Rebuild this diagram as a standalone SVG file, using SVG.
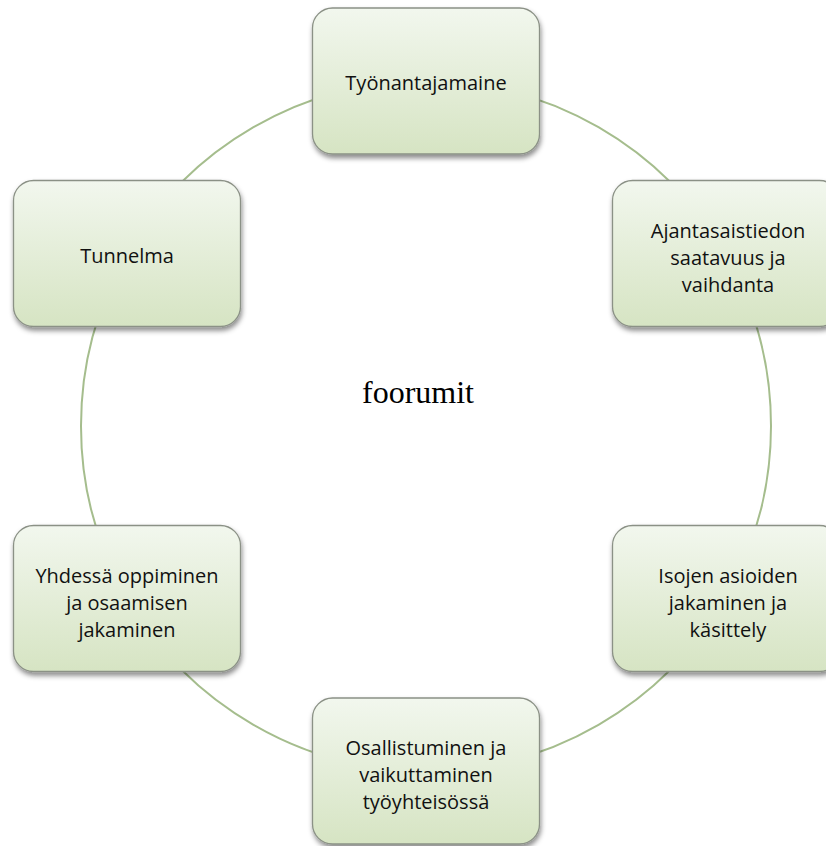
<svg xmlns="http://www.w3.org/2000/svg" width="826" height="846" viewBox="0 0 826 846">
<defs>
<linearGradient id="g" x1="0" y1="0" x2="0" y2="1">
<stop offset="0" stop-color="#f2f7ee"/>
<stop offset="1" stop-color="#d6e4c3"/>
</linearGradient>
<filter id="sh" x="-10%" y="-10%" width="125%" height="130%">
<feDropShadow dx="1" dy="3.5" stdDeviation="2.5" flood-color="#000" flood-opacity="0.45"/>
</filter>
</defs>
<style>
.conn{fill:none;stroke:#a5bd8d;stroke-width:2}
.box{fill:url(#g);stroke:#8b9186;stroke-width:1.3;filter:url(#sh)}
.lbl{font-family:"Open Sans","Liberation Sans",sans-serif;font-size:20px;fill:#111;text-anchor:middle}
.center{font-family:"Liberation Serif","Times New Roman",serif;font-size:32px;fill:#000;text-anchor:middle}
</style>
<rect width="826" height="846" fill="#fff"/>
<g id="connectors">
<path class="conn" d="M426,81 A345,345 0 0 1 724.78,253.5"/>
<path class="conn" d="M724.78,253.5 A345,345 0 0 1 724.78,598.5"/>
<path class="conn" d="M724.78,598.5 A345,345 0 0 1 426,771"/>
<path class="conn" d="M426,771 A345,345 0 0 1 127.22,598.5"/>
<path class="conn" d="M127.22,598.5 A345,345 0 0 1 127.22,253.5"/>
<path class="conn" d="M127.22,253.5 A345,345 0 0 1 426,81"/>
</g>
<text class="center" x="418" y="403">foorumit</text>
<g id="n-tyonantajamaine">
<rect class="box" x="312.5" y="8" width="227" height="146" rx="20"/>
<text class="lbl" x="426" y="89.5">Työnantajamaine</text>
</g>
<g id="n-ajantasaistiedon">
<rect class="box" x="612.5" y="180.5" width="227" height="146" rx="20"/>
<text class="lbl" x="728" y="237.5">Ajantasaistiedon</text>
<text class="lbl" x="728" y="264.5">saatavuus ja</text>
<text class="lbl" x="728" y="291.5">vaihdanta</text>
</g>
<g id="n-isojen">
<rect class="box" x="612.5" y="525.5" width="227" height="146" rx="20"/>
<text class="lbl" x="728" y="582.5">Isojen asioiden</text>
<text class="lbl" x="728" y="609.5">jakaminen ja</text>
<text class="lbl" x="728" y="636.5">käsittely</text>
</g>
<g id="n-osallistuminen">
<rect class="box" x="312.5" y="698" width="227" height="146" rx="20"/>
<text class="lbl" x="426" y="755">Osallistuminen ja</text>
<text class="lbl" x="426" y="782">vaikuttaminen</text>
<text class="lbl" x="426" y="809">työyhteisössä</text>
</g>
<g id="n-yhdessa">
<rect class="box" x="13.5" y="525.5" width="227" height="146" rx="20"/>
<text class="lbl" x="127" y="582.5">Yhdessä oppiminen</text>
<text class="lbl" x="127" y="609.5">ja osaamisen</text>
<text class="lbl" x="127" y="636.5">jakaminen</text>
</g>
<g id="n-tunnelma">
<rect class="box" x="13.5" y="180.5" width="227" height="146" rx="20"/>
<text class="lbl" x="127" y="262.5">Tunnelma</text>
</g>
</svg>
